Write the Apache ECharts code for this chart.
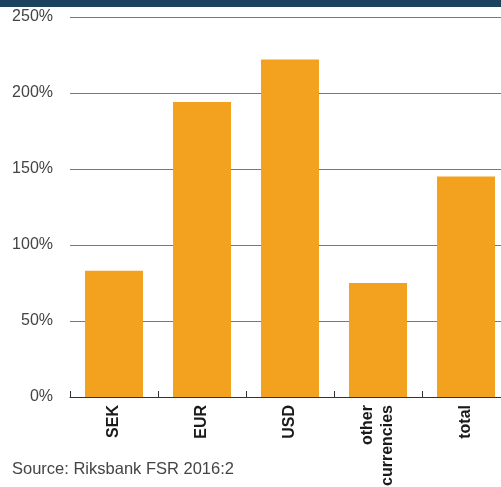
<!DOCTYPE html>
<html><head><meta charset="utf-8">
<script src="https://cdn.jsdelivr.net/npm/echarts@6/dist/echarts.min.js"></script>
<style>html,body{margin:0;padding:0;background:#fff;}#c{width:501px;height:487px;}</style>
</head><body><div id="c"></div>
<script>
var categories = ['SEK', 'EUR', 'USD', 'other\ncurrencies', 'total'];
var values = [83, 194, 222, 75, 145];
var yTicks = [0, 50, 100, 150, 200, 250];
var sourceText = 'Source: Riksbank FSR 2016:2';

var chart = echarts.init(document.getElementById('c'), null, {renderer: 'canvas'});
chart.setOption({
  animation: false,
  graphic: [
    {type: 'rect', shape: {x: 0, y: 0, width: 501, height: 7}, style: {fill: '#1b4360'}},
    {type: 'text', left: 12, top: 461, style: {text: sourceText, font: '16.5px "Liberation Sans", Arial, sans-serif', fill: '#444'}}
  ],
  grid: {left: 70, right: -9, top: 17, bottom: 90, containLabel: false, outerBoundsMode: 'none'},
  xAxis: {
    type: 'category',
    data: categories,
    axisLine: {show: true, lineStyle: {color: '#333', width: 1}},
    axisTick: {show: true, inside: true, length: 6, alignWithLabel: false, lineStyle: {color: '#333'}},
    axisLabel: {rotate: 90, margin: 8, color: '#1a1a1a', fontWeight: 'bold', fontSize: 16, lineHeight: 20, fontFamily: '"Liberation Sans", Arial, sans-serif'}
  },
  yAxis: {
    type: 'value', min: 0, max: 250, interval: 50,
    axisLine: {show: false}, axisTick: {show: false},
    splitLine: {show: true, lineStyle: {color: '#777', width: 1}},
    axisLabel: {formatter: function(v){ return yTicks.indexOf(v) >= 0 ? v + '%' : ''; }, margin: 17, color: '#444', fontSize: 16, fontFamily: '"Liberation Sans", Arial, sans-serif'}
  },
  series: [{
    type: 'bar', data: values, barWidth: 58,
    itemStyle: {color: '#f3a21f'}
  }]
});
</script></body></html>
